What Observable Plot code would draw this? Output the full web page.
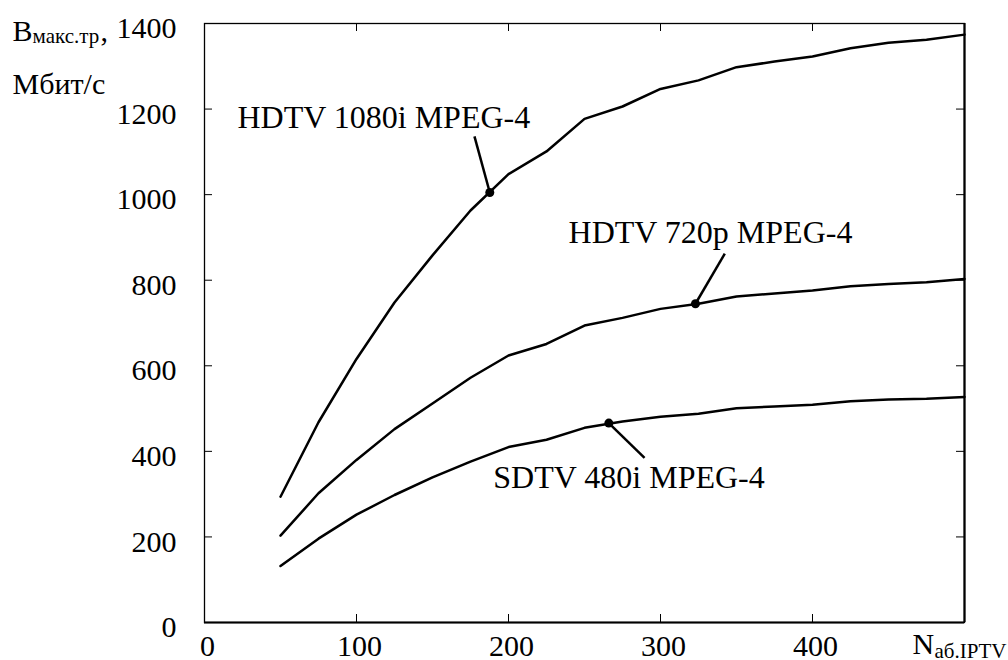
<!DOCTYPE html>
<html><head><meta charset="utf-8">
<script src="https://cdn.jsdelivr.net/npm/d3@7"></script>
<script src="https://cdn.jsdelivr.net/npm/@observablehq/plot@0.6"></script>
<style>body{margin:0;background:#fff} svg, svg text{font-family:'Liberation Serif','Times New Roman',serif !important}</style>
</head><body><div id="chart"></div>
<script>
// Number of IPTV subscribers (x)
const subscribers = [50, 75, 100, 125, 150, 175, 200, 225, 250, 275, 300, 325, 350, 375, 400, 425, 450, 475, 500];
// Max traffic, Mbit/s (y)
const hdtv1080 = [294, 468, 616, 748, 858, 963, 1048, 1101, 1177, 1206, 1247, 1267, 1298, 1311, 1323, 1342, 1355, 1362, 1374];
const hdtv720  = [203, 302, 380, 452, 512, 572, 624, 651, 694, 712, 733, 745, 762, 769, 776, 786, 791, 795, 803];
const sdtv480  = [132, 196, 252, 298, 339, 376, 410, 427, 455, 470, 481, 488, 501, 505, 509, 517, 521, 523, 527];
const seriesNames = ["HDTV 1080i MPEG-4", "HDTV 720p MPEG-4", "SDTV 480i MPEG-4"];
const seriesValues = [hdtv1080, hdtv720, sdtv480];

// Callouts
const calloutDotX = [187.7, 323, 266];
const calloutDotY = [1005, 745, 466];
const calloutEndX = [177.6, 342.3, 289.5];
const calloutEndY = [1136, 862, 385];
const calloutTextX = [21.7, 239.5, 190];
const calloutTextY = [1155, 886, 315];

// Ticks
const xTickMarks = [100, 200, 300, 400];
const xTickLabels = [0, 100, 200, 300, 400];
const yTickMarks = [200, 400, 600, 800, 1000, 1200];
const yTickLabels = [0, 200, 400, 600, 800, 1000, 1200, 1400];

const yTitleMain = "B", yTitleSub = "макс.тр", yTitleComma = ",", yUnit = "Мбит/с";
const xTitleMain = "N", xTitleSub = "аб.IPTV";

const rows = [];
seriesNames.forEach((name, i) => subscribers.forEach((x, j) => rows.push({series: name, x, y: seriesValues[i][j]})));
const callouts = seriesNames.map((name, i) => ({
  name, dx: calloutDotX[i], dy: calloutDotY[i], lx: calloutEndX[i], ly: calloutEndY[i], tx: calloutTextX[i], ty: calloutTextY[i]
}));

const FONT = "'Liberation Serif', 'Times New Roman', serif";
const W = 1008, H = 660, mL = 204, mR = 44, mT = 23, mB = 38;
const innerW = W - mL - mR, innerH = H - mT - mB, tick = 8;
const txt = (s, o) => Plot.text([s], {text: d => d, textAnchor: "start", lineAnchor: "bottom", fill: "#000", fontFamily: FONT, ...o});

const chart = Plot.plot({
  width: W, height: H,
  marginLeft: mL, marginRight: mR, marginTop: mT, marginBottom: mB,
  style: {fontFamily: FONT, fontSize: "30px", background: "#fff", color: "#000"},
  x: {domain: [0, 500], label: null},
  y: {domain: [0, 1400], label: null},
  marks: [
    Plot.frame({stroke: "#000", strokeWidth: 1.3}),
    Plot.ruleY([0], {stroke: "#000", strokeWidth: 2.2}),
    Plot.ruleX([500], {stroke: "#000", strokeWidth: 2.2}),
    Plot.tickX(xTickMarks, {x: d => d, insetTop: innerH - tick, stroke: "#000", strokeWidth: 1}),
    Plot.tickX(xTickMarks, {x: d => d, insetBottom: innerH - tick, stroke: "#000", strokeWidth: 1}),
    Plot.tickY(yTickMarks, {y: d => d, insetRight: innerW - tick, stroke: "#000", strokeWidth: 1}),
    Plot.tickY(yTickMarks, {y: d => d, insetLeft: innerW - tick, stroke: "#000", strokeWidth: 1}),
    Plot.axisX(xTickLabels, {tickSize: 0, tickPadding: 12, dx: 3, fontSize: 30, fontFamily: FONT, label: null, fill: "#000", tickFormat: d => String(d)}),
    Plot.axisY(yTickLabels, {tickSize: 0, tickPadding: 28, dy: 5, fontSize: 30, fontFamily: FONT, label: null, fill: "#000", tickFormat: d => String(d)}),
    Plot.line(rows, {x: "x", y: "y", z: "series", stroke: "#000", strokeWidth: 2.5}),
    Plot.link(callouts, {x1: "dx", y1: "dy", x2: "lx", y2: "ly", stroke: "#000", strokeWidth: 2.5}),
    Plot.dot(callouts, {x: "dx", y: "dy", r: 4.5, fill: "#000"}),
    Plot.text(callouts, {x: "tx", y: "ty", text: "name", textAnchor: "start", lineAnchor: "bottom", fontSize: 32, fontFamily: FONT, fill: "#000"}),
    txt(yTitleMain, {frameAnchor: "top-left", dx: -192, dy: 17, fontSize: 30}),
    txt(yTitleSub, {frameAnchor: "top-left", dx: -172, dy: 19, fontSize: 21}),
    txt(yTitleComma, {frameAnchor: "top-left", dx: -104, dy: 17, fontSize: 30}),
    txt(yUnit, {frameAnchor: "top-left", dx: -192, dy: 70, fontSize: 30}),
    txt(xTitleMain, {frameAnchor: "bottom-right", dx: -52, dy: 31, fontSize: 30}),
    txt(xTitleSub, {frameAnchor: "bottom-right", dx: -30, dy: 35, fontSize: 21})
  ]
});
document.getElementById("chart").appendChild(chart);
</script></body></html>
